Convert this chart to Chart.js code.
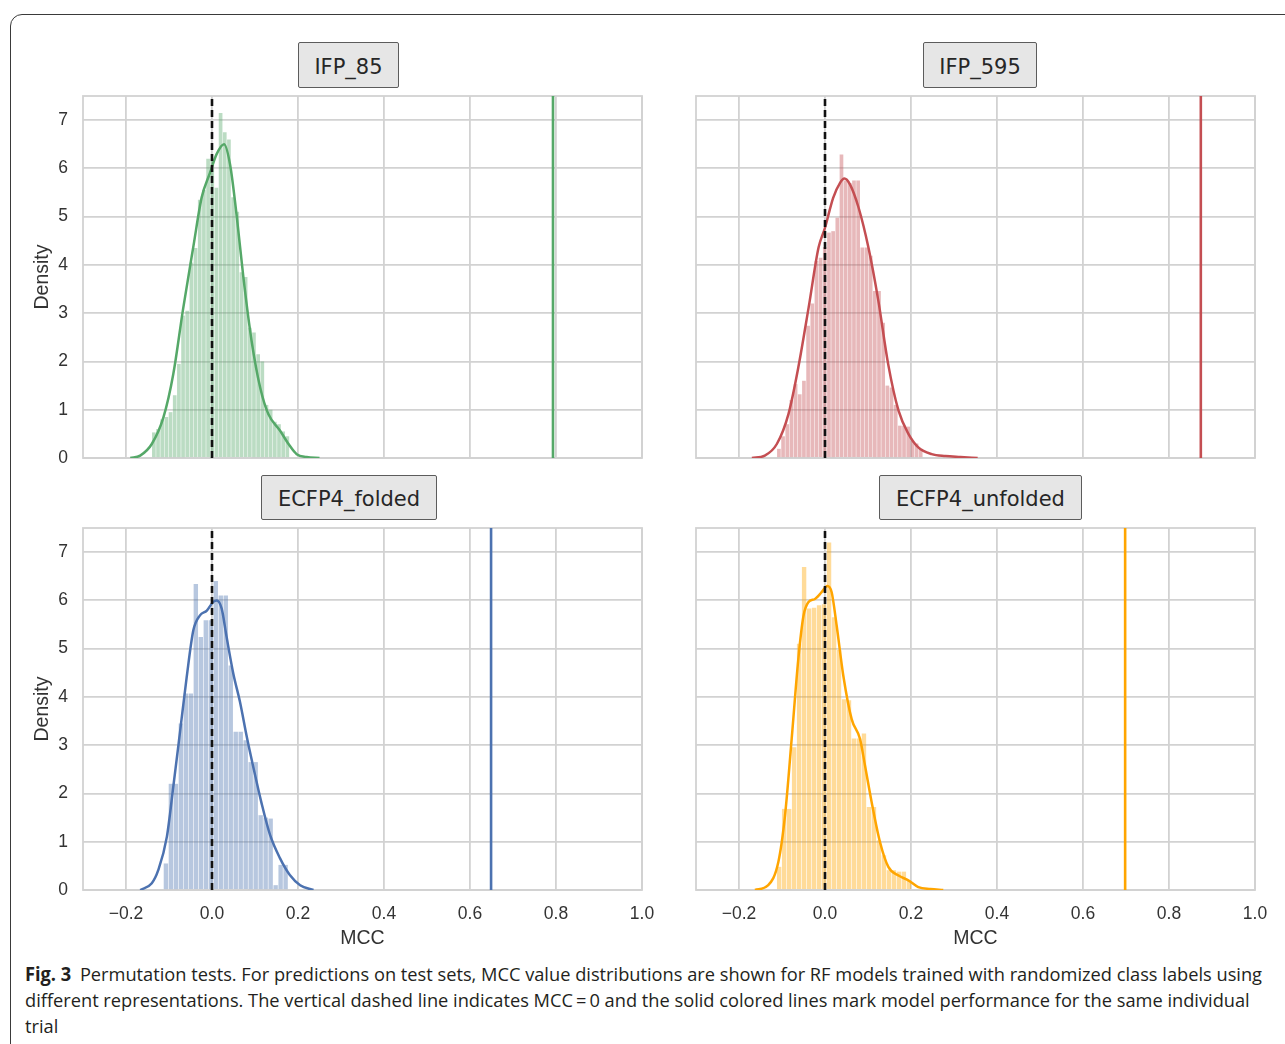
<!DOCTYPE html>
<html><head><meta charset="utf-8">
<script src="https://cdn.jsdelivr.net/npm/chart.js@4.4.0/dist/chart.umd.min.js"></script>
<style>
html,body{margin:0;padding:0;background:#fff;width:1285px;height:1044px;overflow:hidden;position:relative;}
#frame{position:absolute;left:10px;top:14px;width:1300px;height:1080px;border:1.5px solid #3a3a3a;border-radius:12px;box-sizing:border-box;}
canvas{position:absolute;}
.tbox{position:absolute;box-sizing:border-box;background:#e6e6e6;border:1.5px solid #5c5c5c;border-radius:2px;font-family:"DejaVu Sans",sans-serif;font-size:21px;color:#262626;display:flex;align-items:center;justify-content:center;padding-top:3px;}
#caption{position:absolute;left:25px;top:961px;font-family:"Open Sans",sans-serif;font-size:19px;line-height:26px;color:#231f20;transform-origin:0 0;}
#caption div{white-space:nowrap;}
#caption b{margin-right:9px;}
</style></head><body>
<div id="frame"></div>
<canvas id="c0" width="662" height="390" style="left:0px;top:80px"></canvas>
<canvas id="c1" width="599" height="390" style="left:676px;top:80px"></canvas>
<canvas id="c2" width="662" height="440" style="left:0px;top:512px"></canvas>
<canvas id="c3" width="599" height="440" style="left:676px;top:512px"></canvas>
<div class="tbox" style="left:298px;top:42px;width:101px;height:46px">IFP_85</div>
<div class="tbox" style="left:923px;top:42px;width:114px;height:46px">IFP_595</div>
<div class="tbox" style="left:261px;top:475px;width:176px;height:45px">ECFP4_folded</div>
<div class="tbox" style="left:879px;top:475px;width:203px;height:45px">ECFP4_unfolded</div>
<div id="caption">
<div id="cap1"><b>Fig. 3</b>Permutation tests. For predictions on test sets, MCC value distributions are shown for RF models trained with randomized class labels using</div>
<div>different representations. The vertical dashed line indicates MCC&#8201;=&#8201;0 and the solid colored lines mark model performance for the same individual</div>
<div>trial</div>
</div>
<script>
// ---------- data ----------
const panelNames = ['IFP_85', 'IFP_595', 'ECFP4_folded', 'ECFP4_unfolded'];
const xTickValues = [-0.2, 0, 0.2, 0.4, 0.6, 0.8, 1.0];
const xTickLabels = ['\u22120.2', '0.0', '0.2', '0.4', '0.6', '0.8', '1.0'];
const yTickValues = [0, 1, 2, 3, 4, 5, 6, 7];
const xLimits = [-0.3, 1.0];
const yLimits = [0, 7.5];
const nullMCC = 0;
const modelMCC = [0.793, 0.874, 0.649, 0.698];

// IFP_85 histogram (bin centres, density) and KDE
const ifp85Bins = [-0.1352,-0.1255,-0.1158,-0.1061,-0.0964,-0.0867,-0.0770,-0.0673,-0.0576,-0.0479,-0.0382,-0.0285,-0.0188,-0.0091,0.0006,0.0103,0.0200,0.0297,0.0394,0.0491,0.0588,0.0685,0.0782,0.0879,0.0976,0.1073,0.1170,0.1267,0.1364,0.1461,0.1558,0.1655,0.1752];
const ifp85Density = [0.53,0.60,0.80,0.85,0.95,1.30,1.95,2.95,3.05,4.05,4.35,5.35,5.55,6.20,6.20,5.60,7.15,6.75,6.60,5.40,5.10,3.85,3.75,2.70,2.60,2.15,2.00,1.10,1.00,0.75,0.70,0.55,0.45];
const ifp85KdeX = [-0.19,-0.167,-0.14,-0.113,-0.09,-0.067,-0.043,-0.024,-0.005,0.011,0.028,0.042,0.057,0.073,0.092,0.112,0.131,0.158,0.178,0.197,0.22,0.25];
const ifp85KdeY = [0,0.05,0.29,0.84,1.74,3.1,4.4,5.4,5.9,6.3,6.5,6.08,5.05,3.74,2.43,1.46,0.91,0.57,0.29,0.08,0.02,0];

// IFP_595
const ifp595Bins = [-0.1072,-0.0975,-0.0878,-0.0781,-0.0684,-0.0587,-0.0490,-0.0393,-0.0296,-0.0199,-0.0102,-0.0005,0.0092,0.0189,0.0286,0.0383,0.0480,0.0577,0.0674,0.0771,0.0868,0.0965,0.1062,0.1159,0.1256,0.1353,0.1450,0.1547,0.1644,0.1741,0.1838,0.1935,0.2032,0.2129,0.2226];
const ifp595Density = [0.19,0.45,0.70,1.20,1.53,1.32,1.60,2.74,3.20,4.08,4.15,4.37,4.67,4.70,4.98,6.29,5.75,5.70,5.75,5.75,4.36,4.36,4.19,3.46,3.46,2.80,1.50,1.46,1.10,0.67,0.67,0.65,0.36,0.30,0.19];
const ifp595KdeX = [-0.17,-0.14,-0.112,-0.085,-0.062,-0.038,-0.015,0,0.019,0.035,0.045,0.058,0.078,0.101,0.124,0.147,0.171,0.194,0.217,0.248,0.28,0.315,0.355];
const ifp595KdeY = [0,0.05,0.29,0.91,1.88,3.12,4.36,4.77,5.39,5.7,5.79,5.67,5.19,4.36,3.26,1.94,0.98,0.5,0.22,0.08,0.04,0.02,0];

// ECFP4_folded
const foldedBins = [-0.1072,-0.0956,-0.0840,-0.0724,-0.0608,-0.0492,-0.0376,-0.0260,-0.0144,-0.0028,0.0088,0.0204,0.0320,0.0436,0.0552,0.0668,0.0784,0.0900,0.1016,0.1132,0.1248,0.1364,0.1480,0.1596,0.1712];
const foldedDensity = [0.55,2.20,2.20,3.45,4.07,4.07,6.34,5.24,5.59,5.59,6.40,6.10,6.10,4.65,3.28,3.28,3.10,2.65,2.65,1.55,1.50,1.48,0.10,0.52,0.52];
const foldedKdeX = [-0.167,-0.14,-0.125,-0.105,-0.09,-0.074,-0.059,-0.0434,-0.028,-0.012,0.003,0.011,0.0225,0.034,0.0496,0.065,0.081,0.096,0.1155,0.135,0.158,0.181,0.205,0.236];
const foldedKdeY = [0,0.14,0.41,1.1,2.14,3.3,4.4,5.38,5.69,5.79,5.97,6.0,5.83,5.24,4.48,3.9,3.17,2.55,1.79,1.14,0.66,0.31,0.1,0];

// ECFP4_unfolded
const unfoldedBins = [-0.1066,-0.0950,-0.0834,-0.0718,-0.0602,-0.0486,-0.0370,-0.0254,-0.0138,-0.0022,0.0094,0.0210,0.0326,0.0442,0.0558,0.0674,0.0790,0.0906,0.1022,0.1138,0.1254,0.1370,0.1486,0.1602,0.1718,0.1834,0.1950];
const unfoldedDensity = [0.48,1.68,1.68,2.96,5.10,6.69,5.83,5.85,5.90,5.92,7.20,5.65,4.97,3.95,3.93,3.14,3.14,3.24,1.72,1.72,1.03,0.72,0.41,0.41,0.38,0.38,0.20];
const unfoldedKdeX = [-0.163,-0.132,-0.1085,-0.093,-0.0775,-0.062,-0.05,-0.0388,-0.0233,-0.0078,0.0054,0.0155,0.0271,0.0426,0.062,0.0814,0.093,0.1085,0.128,0.1473,0.171,0.1938,0.217,0.245,0.275];
const unfoldedKdeY = [0,0.1,0.58,1.54,3.13,4.79,5.68,5.96,6.03,6.17,6.3,6.17,5.48,4.44,3.54,3.13,2.58,1.82,0.99,0.48,0.3,0.2,0.06,0.02,0];

// ---------- styling ----------
const lineColors = ['#55a868', '#c44e52', '#4c72b0', '#ffa500'];
const fillColors = ['rgba(85,168,104,0.4)', 'rgba(196,78,82,0.4)', 'rgba(76,114,176,0.4)', 'rgba(255,165,0,0.4)'];
const gridColor = '#d2d2d2';
const tickFont = {family: '"Liberation Sans", Arial, sans-serif', size: 17.5};
const titleFont = {family: '"Liberation Sans", Arial, sans-serif', size: 19.5};
const textColor = '#333';

const framePlugin = {
  id: 'frame',
  beforeDatasetsDraw(chart) {
    const a = chart.chartArea, ctx = chart.ctx;
    ctx.save();
    ctx.strokeStyle = gridColor;
    ctx.lineWidth = 1.8;
    ctx.strokeRect(a.left, a.top, a.right - a.left, a.bottom - a.top);
    ctx.restore();
  }
};

function zeroPad(s) { s.paddingLeft = 0; s.paddingRight = 0; s.paddingTop = 0; s.paddingBottom = 0; }

function makePanel(id, idx, bins, dens, kx, ky, showY, showX, yAxisW, xAxisH) {
  const datasets = [
    {type: 'line', data: [{x: nullMCC, y: yLimits[0]}, {x: nullMCC, y: yLimits[1]}], borderColor: '#111', borderWidth: 2.6, borderDash: [7, 4], pointRadius: 0, order: 0},
    {type: 'line', data: [{x: modelMCC[idx], y: yLimits[0]}, {x: modelMCC[idx], y: yLimits[1]}], borderColor: lineColors[idx], borderWidth: 2.6, pointRadius: 0, order: 1},
    {type: 'line', data: kx.map((x, i) => ({x: x, y: ky[i]})), borderColor: lineColors[idx], borderWidth: 2.5, pointRadius: 0, cubicInterpolationMode: 'monotone', order: 2},
    {type: 'bar', data: bins.map((x, i) => ({x: x, y: dens[i]})), backgroundColor: fillColors[idx], borderWidth: 0, barPercentage: 0.88, categoryPercentage: 1, order: 3}
  ];
  return new Chart(document.getElementById(id), {
    type: 'line',
    data: {datasets: datasets},
    plugins: [framePlugin],
    options: {
      responsive: false, animation: false,
      layout: {padding: {top: 16, right: 20, left: 0, bottom: 0}},
      plugins: {legend: {display: false}, tooltip: {enabled: false}, title: {display: false}},
      scales: {
        x: {
          type: 'linear', min: xLimits[0], max: xLimits[1], offset: false,
          afterBuildTicks: s => { s.ticks = xTickValues.map(v => ({value: v})); },
          afterFit: s => { s.height = xAxisH; zeroPad(s); },
          grid: {color: gridColor, lineWidth: 1.8, drawTicks: false, offset: false},
          border: {display: false},
          ticks: {display: showX, padding: 14, font: tickFont, color: textColor, maxRotation: 0, autoSkip: false,
                  callback: (v, i) => xTickLabels[i]},
          title: {display: showX, text: 'MCC', font: titleFont, color: textColor, padding: {top: 0, bottom: 2}}
        },
        y: {
          type: 'linear', min: yLimits[0], max: yLimits[1],
          afterBuildTicks: s => { s.ticks = yTickValues.map(v => ({value: v})); },
          afterFit: s => { s.width = yAxisW; zeroPad(s); },
          grid: {color: gridColor, lineWidth: 1.8, drawTicks: false},
          border: {display: false},
          ticks: {display: showY, padding: 15, font: tickFont, color: textColor, autoSkip: false,
                  callback: (v, i) => String(yTickValues[i])},
          title: {display: showY, text: 'Density', font: titleFont, color: textColor, padding: {top: 31, bottom: 0}}
        }
      }
    }
  });
}

makePanel('c0', 0, ifp85Bins, ifp85Density, ifp85KdeX, ifp85KdeY, true, false, 83, 12);
makePanel('c1', 1, ifp595Bins, ifp595Density, ifp595KdeX, ifp595KdeY, false, false, 20, 12);
makePanel('c2', 2, foldedBins, foldedDensity, foldedKdeX, foldedKdeY, true, true, 83, 62);
makePanel('c3', 3, unfoldedBins, unfoldedDensity, unfoldedKdeX, unfoldedKdeY, false, true, 20, 62);

// fit the caption to the reference line width
function fitCaption() {
  const cap = document.getElementById('caption');
  cap.style.transform = 'none';
  const l1 = document.getElementById('cap1');
  const range = document.createRange();
  range.selectNodeContents(l1);
  const w = range.getBoundingClientRect().width;
  if (w > 0) cap.style.transform = 'scaleX(' + (1237 / w) + ')';
}
fitCaption();
if (document.fonts && document.fonts.ready) document.fonts.ready.then(fitCaption);
</script>
</body></html>
